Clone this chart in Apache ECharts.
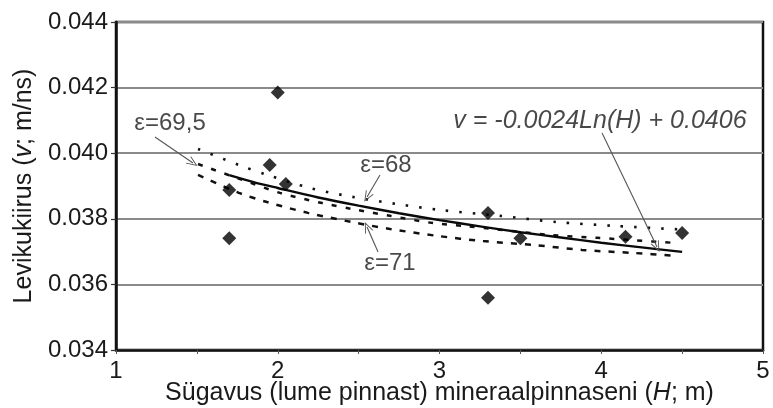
<!DOCTYPE html>
<html>
<head>
<meta charset="utf-8">
<script src="https://cdn.jsdelivr.net/npm/echarts@6/dist/echarts.min.js"></script>
<style>html,body{margin:0;padding:0;background:#fff}#c{width:773px;height:408px}</style>
</head>
<body>
<div id="c"></div>
<script>
// Measured points
const depthH = [2.0, 1.95, 2.05, 1.7, 1.7, 3.3, 3.3, 3.5, 4.15, 4.5];
const velocity = [0.04185, 0.03964, 0.03906, 0.03888, 0.03741, 0.03818, 0.03559, 0.03741, 0.03745, 0.03757];

// Regression curve v = -0.0024Ln(H) + 0.0406
const fitH = [1.7, 1.85, 2.0, 2.25, 2.5, 2.75, 3.0, 3.25, 3.5, 3.75, 4.0, 4.25, 4.5];
const fitV = [0.03933, 0.03912, 0.03894, 0.03865, 0.03840, 0.03817, 0.03796, 0.03777, 0.03759, 0.03743, 0.03727, 0.03713, 0.03699];

// eps = 68 (dotted)
const e68H = [1.507, 1.76, 1.934, 2.199, 2.459, 2.737, 3.003, 3.374, 3.726, 4.097, 4.47];
const e68V = [0.04013, 0.03964, 0.03934, 0.03894, 0.03867, 0.03845, 0.03827, 0.03809, 0.03790, 0.03778, 0.03768];

// eps = 69.5 (dashed)
const e695H = [1.507, 1.767, 2.014, 2.274, 2.459, 2.694, 2.96, 3.158, 3.683, 3.974, 4.196, 4.468];
const e695V = [0.03967, 0.03921, 0.03879, 0.03848, 0.03830, 0.03809, 0.03787, 0.03778, 0.03751, 0.03742, 0.03735, 0.03726];

// eps = 71 (dashed)
const e71H = [1.507, 1.76, 1.934, 2.187, 2.459, 2.694, 2.985, 3.269, 3.59, 3.881, 4.196, 4.468];
const e71V = [0.03934, 0.03879, 0.03851, 0.03818, 0.03790, 0.03769, 0.03748, 0.03732, 0.03720, 0.03705, 0.03696, 0.03687];

// X tick labels, Y tick labels
const xTicks = ['1', '2', '3', '4', '5'];
const yTicks = ['0.034', '0.036', '0.038', '0.040', '0.042', '0.044'];

// Annotation texts
const annTexts = ['ε=69,5', 'ε=68', 'ε=71', 'v = -0.0024Ln(H) + 0.0406'];
const annPos = [[1.334, 0.04092], [2.669, 0.03964], [2.694, 0.03665], [3.992, 0.04098]];
const arrows = [
  [[1.241, 0.040494], [1.476, 0.039701]],
  [[2.632, 0.039335], [2.552, 0.038665]],
  [[2.620, 0.036988], [2.552, 0.037750]],
  [[4.005, 0.040616], [4.345, 0.037140]]
];

const zip = (a, b) => a.map((v, i) => [v, b[i]]);
const FONT = '"Liberation Sans", Arial, sans-serif';
const TXT = '#1a1a1a';

const chart = echarts.init(document.getElementById('c'), null, {renderer: 'canvas'});
const lineBase = {type: 'line', showSymbol: false, symbol: 'none', smooth: 0.3, animation: false, silent: true, z: 3};
const chevron = 'path://M5,0 L10,12 L8.9,12 L5,2.6 L1.1,12 L0,12 Z';

chart.setOption({
  backgroundColor: '#fff',
  animation: false,
  grid: {left: 116, right: 10, top: 22, bottom: 58, containLabel: false, outerBoundsMode: 'none',
    show: true, borderColor: '#111', borderWidth: 2.5, backgroundColor: 'transparent'},
  xAxis: {
    type: 'value', min: 1, max: 5, interval: 0.5,
    name: 'Sügavus (lume pinnast) mineraalpinnaseni ({i|H}; m)',
    nameLocation: 'middle', nameGap: 31, nameMoveOverlap: false,
    nameTextStyle: {fontFamily: FONT, fontSize: 25, color: TXT, rich: {i: {fontFamily: FONT, fontSize: 25, color: TXT, fontStyle: 'italic'}}},
    axisLine: {show: true, onZero: false, lineStyle: {color: '#111', width: 2.5}},
    axisTick: {show: true, length: 4, inside: false, lineStyle: {color: '#555', width: 1}},
    axisLabel: {fontFamily: FONT, fontSize: 24, color: TXT, margin: 9,
      formatter: v => { const i = Math.round(v - 1); return Math.abs(v - Math.round(v)) < 1e-6 ? xTicks[i] : ''; }},
    splitLine: {show: false}
  },
  yAxis: {
    type: 'value', min: 0.034, max: 0.044, interval: 0.002,
    name: '{a|Levikukiirus (}{i|v}{a|; m/ns)}',
    nameLocation: 'middle', nameGap: 79, nameMoveOverlap: false,
    nameTextStyle: {fontFamily: FONT, fontSize: 25, color: TXT,
      rich: {a: {fontFamily: FONT, fontSize: 25, color: TXT}, i: {fontFamily: FONT, fontSize: 25, color: TXT, fontStyle: 'italic'}}},
    axisLine: {show: true, lineStyle: {color: '#111', width: 2.5}},
    axisTick: {show: true, length: 5, lineStyle: {color: '#333', width: 1.2}},
    axisLabel: {fontFamily: FONT, fontSize: 24, color: TXT, margin: 8,
      formatter: v => yTicks[Math.round((v - 0.034) / 0.002)]},
    splitLine: {show: true, lineStyle: {color: '#8a8a8a', width: 1.8}}
  },
  series: [
    Object.assign({}, lineBase, {name: 'e68', data: zip(e68H, e68V), lineStyle: {color: '#111', width: 2.6, type: [2.5, 11]}}),
    Object.assign({}, lineBase, {name: 'e695', data: zip(e695H, e695V), lineStyle: {color: '#111', width: 2.5, type: [5, 9]}}),
    Object.assign({}, lineBase, {name: 'e71', data: zip(e71H, e71V), lineStyle: {color: '#111', width: 2.5, type: [6, 8]}}),
    Object.assign({}, lineBase, {name: 'fit', data: zip(fitH, fitV), lineStyle: {color: '#0a0a0a', width: 2.4, type: 'solid'}, z: 4}),
    {
      name: 'measured', type: 'scatter', data: zip(depthH, velocity),
      symbol: 'diamond', symbolSize: 14, itemStyle: {color: '#000'}, z: 5, animation: false, silent: true
    },
    {
      name: 'annotations', type: 'scatter', z: 6, animation: false, silent: true,
      symbolSize: 0, itemStyle: {color: 'transparent'},
      data: annPos.map((p, i) => ({value: [p[0], p[1]], name: annTexts[i],
        label: {fontStyle: i === 3 ? 'italic' : 'normal', fontSize: i === 3 ? 25 : 24}})),
      label: {show: true, position: 'inside', formatter: p => p.name, fontFamily: FONT, fontSize: 24, color: TXT},
      markLine: {
        silent: true, animation: false,
        symbol: ['none', chevron], symbolSize: [9, 11],
        label: {show: false},
        lineStyle: {color: '#555', width: 1.1, type: 'solid'},
        emphasis: {disabled: true},
        data: arrows.map(a => [{coord: a[0]}, {coord: a[1]}])
      }
    }
  ]
});
</script>
</body>
</html>
